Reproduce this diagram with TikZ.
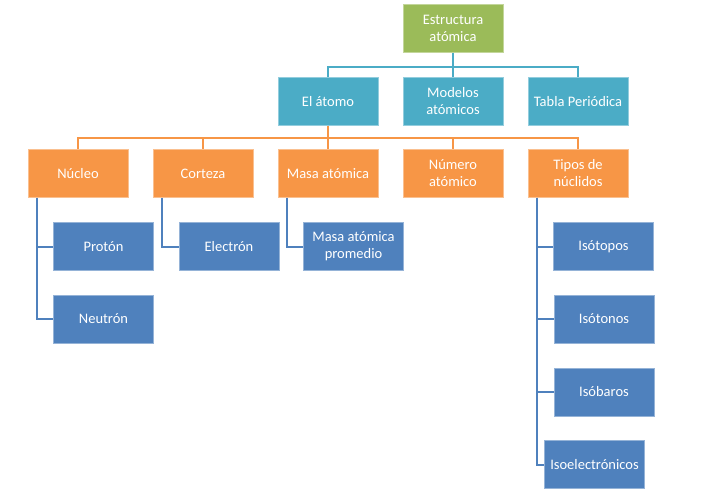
\documentclass[tikz,border=0pt]{standalone}
\usepackage{fontspec}
\setmainfont{Carlito}
\definecolor{cgreen}{HTML}{9BBB59}
\definecolor{cteal}{HTML}{4BACC6}
\definecolor{corange}{HTML}{F79646}
\definecolor{cblue}{HTML}{4F81BD}
\begin{document}
\begin{tikzpicture}[x=1pt,y=-1pt,
  box/.style={minimum width=100pt,minimum height=48pt,inner sep=1pt,align=center,
    text=white,font=\fontsize{14.5}{17}\selectfont,line width=0.8pt},
  gbox/.style={box,fill=cgreen,draw=cgreen!60!white},
  tbox/.style={box,fill=cteal,draw=cteal!60!white},
  obox/.style={box,fill=corange,draw=corange!60!white},
  bbox/.style={box,fill=cblue,draw=cblue!60!white},
  tline/.style={draw=cteal,line width=2pt},
  oline/.style={draw=corange,line width=2pt},
  bline/.style={draw=cblue,line width=2pt}]
\useasboundingbox (0,0) rectangle (709,499);
% top
\node[gbox] (top) at (453,28.5) {Estructura\\atómica};
% row 2
\node[tbox] (atomo) at (328,101.5) {El átomo};
\node[tbox] (modelos) at (453,101.5) {Modelos\\atómicos};
\node[tbox] (tabla) at (578,101.5) {Tabla Periódica};
% row 3
\node[obox] (nucleo) at (78,173.5) {Núcleo};
\node[obox] (corteza) at (203,173.5) {Corteza};
\node[obox] (masa) at (328,173.5) {Masa atómica};
\node[obox] (numero) at (453,173.5) {Número\\atómico};
\node[obox] (tipos) at (578,173.5) {Tipos de\\núclidos};
% row 4
\node[bbox] (proton) at (103.5,246.5) {Protón};
\node[bbox] (neutron) at (103.5,319) {Neutrón};
\node[bbox] (electron) at (229,246.5) {Electrón};
\node[bbox] (promedio) at (353.5,246.5) {Masa atómica\\promedio};
\node[bbox] (isotopos) at (603.5,246.5) {Isótopos};
\node[bbox] (isotonos) at (604,319) {Isótonos};
\node[bbox] (isobaros) at (604,392) {Isóbaros};
\node[bbox] (isoelec) at (594.5,464.5) {Isoelectrónicos};
% teal connectors
\foreach \t in {atomo,modelos,tabla}
  \draw[tline] (top.south) -- ++(0,14) -| (\t.north);
% orange connectors
\foreach \t in {nucleo,corteza,masa,numero,tipos}
  \draw[oline] (atomo.south) -- ++(0,12) -| (\t.north);
% blue connectors
\draw[bline] ([xshift=9pt]nucleo.south west) |- (proton.west);
\draw[bline] ([xshift=9pt]nucleo.south west) |- (neutron.west);
\draw[bline] ([xshift=9pt]corteza.south west) |- (electron.west);
\draw[bline] ([xshift=9pt]masa.south west) |- (promedio.west);
\foreach \t in {isotopos,isotonos,isobaros,isoelec}
  \draw[bline] ([xshift=9pt]tipos.south west) |- (\t.west);
\end{tikzpicture}
\end{document}
